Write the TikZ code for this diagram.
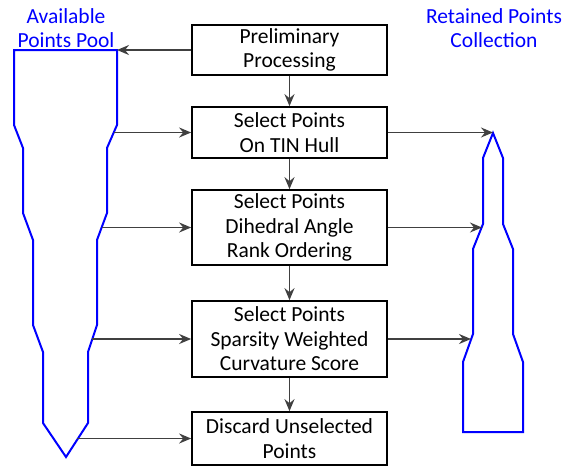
\documentclass[tikz,border=0pt]{standalone}
\usepackage{fontspec}
\setmainfont{Carlito}
\usetikzlibrary{arrows.meta}
\definecolor{flowgray}{HTML}{404040}
\tikzset{
  stepbox/.style={draw=black, line width=1.7pt, minimum width=195pt, inner sep=0pt,
                  align=center, font=\fontsize{21.5}{24.4}\selectfont},
  flow/.style={draw=flowgray, line width=1.8pt, -{Stealth[length=12pt,width=10pt,inset=4pt]}},
  pool/.style={draw=blue, line width=2pt, line join=miter},
  plbl/.style={text=blue, align=center, font=\fontsize{21.5}{24.4}\selectfont},
  }

\begin{document}
\begin{tikzpicture}[x=1pt,y=-1pt]
  \useasboundingbox (0,0) rectangle (563,467);

  % process boxes
  \node[stepbox,minimum height=50pt] (prelim)   at (289.5, 50)   {Preliminary\\Processing};
  \node[stepbox,minimum height=51pt] (hull)     at (289.5,132.5) {Select Points\\On TIN Hull};
  \node[stepbox,minimum height=75pt] (dihedral) at (289.5,227.5) {Select Points\\Dihedral Angle\\Rank Ordering};
  \node[stepbox,minimum height=76pt] (sparsity) at (289.5,339)   {Select Points\\Sparsity Weighted\\Curvature Score};
  \node[stepbox,minimum height=53pt] (discard)  at (289.5,438.5) {Discard Unselected\\Points};

  % pool titles
  \node[plbl] (availlbl)  at (66,28)  {Available\\Points Pool};
  \node[plbl] (retainlbl) at (494,28) {Retained Points\\Collection};

  % available points pool (left)
  \draw[pool] (14,50) -- (14,125) -- (23,148) -- (23,213) -- (33,240) -- (33,325)
    -- (43,352) -- (43,423) -- (66,457) -- (88,423) -- (88,352) -- (97,325)
    -- (97,240) -- (107,213) -- (107,148) -- (117,125) -- (117,50) -- cycle;

  % retained points collection (right)
  \draw[pool] (493,133) -- (503,158) -- (503,224) -- (513,249) -- (513,334)
    -- (523,362) -- (523,432) -- (463,432) -- (463,362) -- (473,334)
    -- (473,249) -- (483,224) -- (483,158) -- cycle;

  % connector ends on the pools
  \coordinate (avail0) at (117,50);
  \coordinate (avail1) at (114,132.5);
  \coordinate (avail2) at (102,227.5);
  \coordinate (avail3) at (92,339);
  \coordinate (avail4) at (77,438.5);
  \coordinate (retain1) at (493,132.5);
  \coordinate (retain2) at (482,227.5);
  \coordinate (retain3) at (471,339);

  % main flow
  \draw[flow] (prelim)   -- (hull);
  \draw[flow] (hull)     -- (dihedral);
  \draw[flow] (dihedral) -- (sparsity);
  \draw[flow] (sparsity) -- (discard);

  % pool to steps
  \draw[flow] (prelim.west) -- (avail0);
  \draw[flow] (avail1) -- (hull.west);
  \draw[flow] (avail2) -- (dihedral.west);
  \draw[flow] (avail3) -- (sparsity.west);
  \draw[flow] (avail4) -- (discard.west);

  % steps to collection
  \draw[flow] (hull.east)     -- (retain1);
  \draw[flow] (dihedral.east) -- (retain2);
  \draw[flow] (sparsity.east) -- (retain3);
\end{tikzpicture}
\end{document}
